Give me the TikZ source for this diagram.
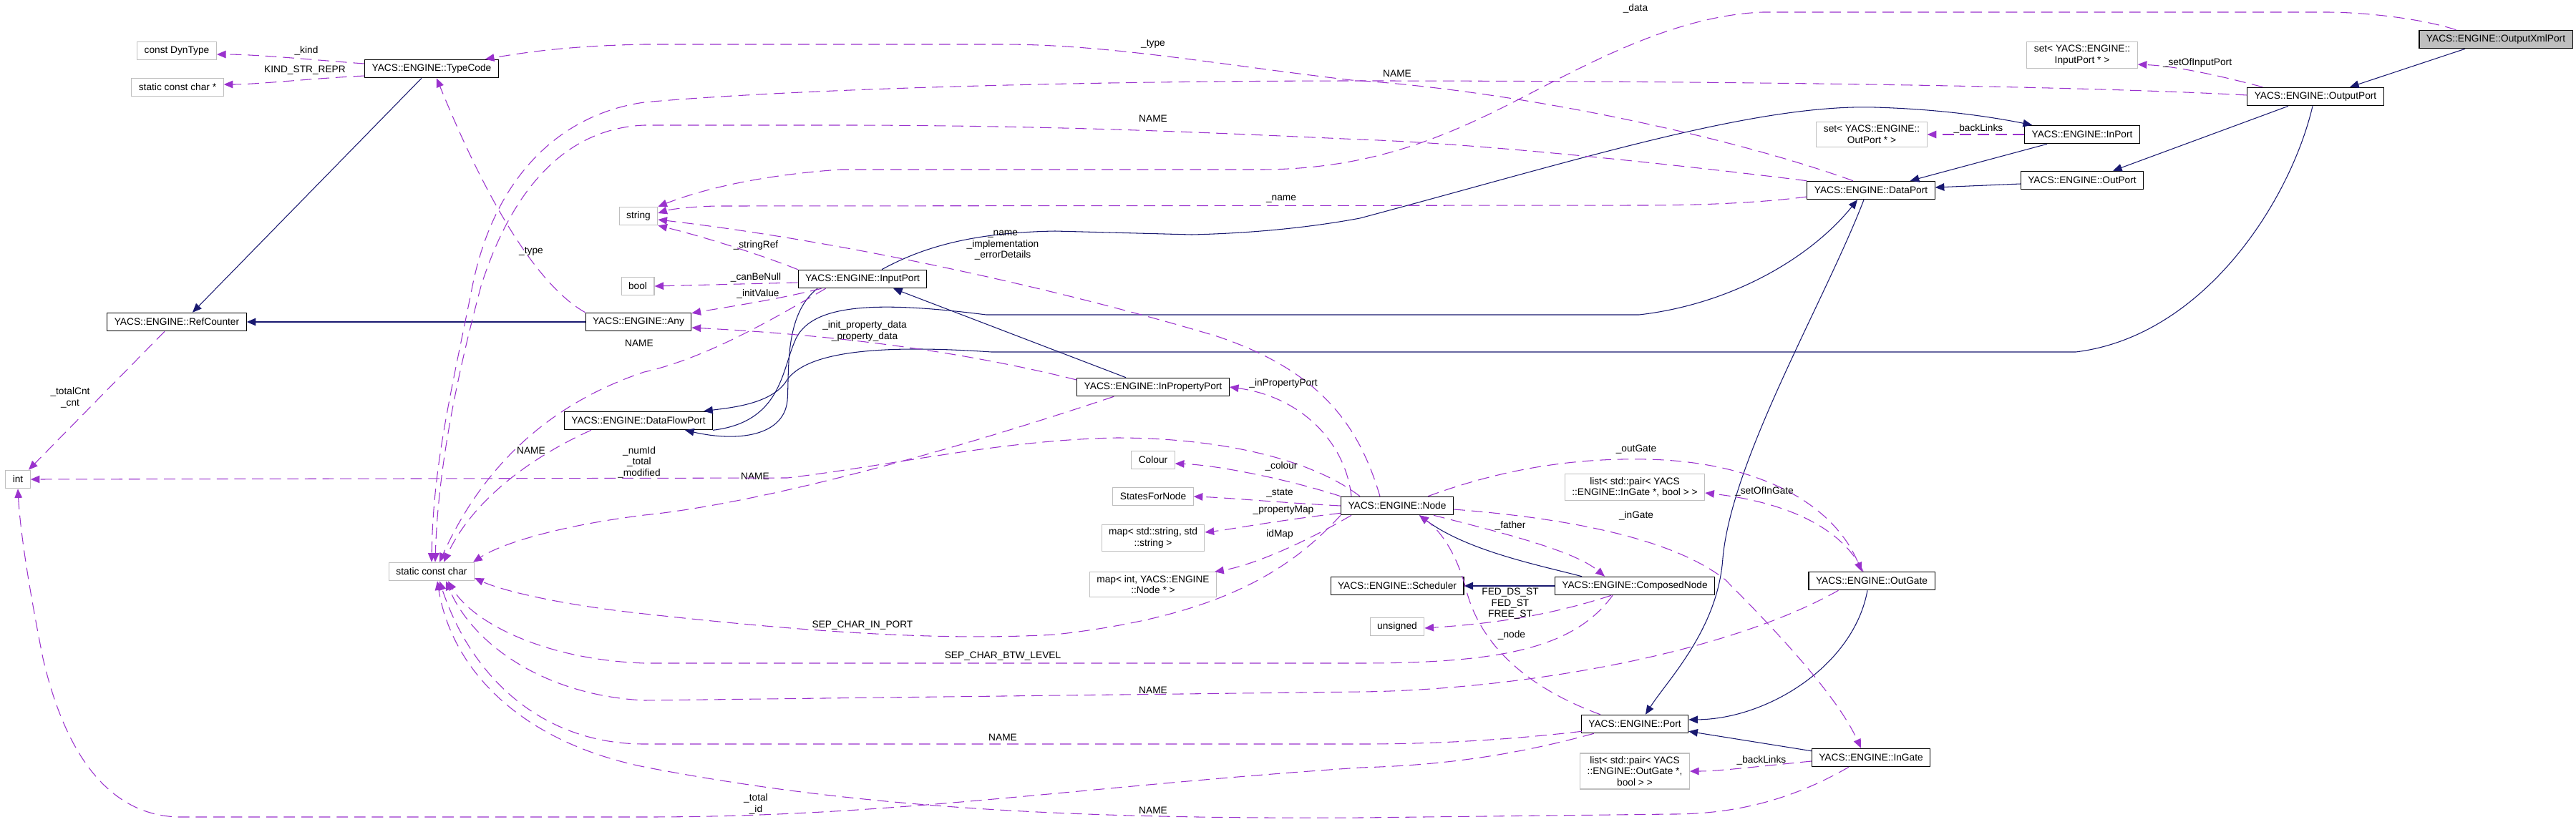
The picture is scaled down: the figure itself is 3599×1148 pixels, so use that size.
\documentclass[tikz,border=0pt]{standalone}
\usepackage{fontspec}
\setmainfont{Liberation Sans}
\usetikzlibrary{arrows.meta,calc}

\definecolor{inhblue}{HTML}{191970}
\definecolor{usepurple}{HTML}{9A32CD}
\definecolor{extgray}{HTML}{BFBFBF}
\newcommand\dgfont{\fontsize{3.9}{4.4}\selectfont}

\begin{document}
\begin{tikzpicture}[x=0.01cm, y=-0.01cm,
    cls/.style={draw=black, line width=0.3pt, fill=white, font=\dgfont, align=center,
                inner xsep=0.1cm, inner ysep=0.045cm, minimum height=0.255cm},
    ext/.style={cls, draw=extgray},
    self/.style={cls, fill=extgray},
    inh/.style={draw=inhblue, line width=0.3pt, -{Triangle[length=3.6pt,width=3pt]}},
    use/.style={draw=usepurple, line width=0.3pt, dash pattern=on 4.5pt off 2.5pt, -{Triangle[length=3.6pt,width=3pt]}},
    lbl/.style={font=\dgfont, align=center, inner sep=0pt}]
    \useasboundingbox (0,0) rectangle (3599,1148);

    % classes and types
    \node[ext] (int) at (25,670) {int};
    \node[ext] (dyntype) at (247,71) {const DynType};
    \node[ext] (kindrepr) at (248,122) {static const char *};
    \node[cls] (refcnt) at (247,450) {YACS::ENGINE::RefCounter};
    \node[cls] (typecode) at (603,96) {YACS::ENGINE::TypeCode};
    \node[ext] (scc) at (603,799) {static const char};
    \node[ext] (string) at (892,302) {string};
    \node[ext] (bool) at (891,400) {bool};
    \node[cls] (any) at (892,450) {YACS::ENGINE::Any};
    \node[cls] (dfport) at (892,588) {YACS::ENGINE::DataFlowPort};
    \node[cls] (inputport) at (1205,390) {YACS::ENGINE::InputPort};
    \node[cls] (inpropport) at (1611,541) {YACS::ENGINE::InPropertyPort};
    \node[ext] (colour) at (1611,643) {Colour};
    \node[ext] (states) at (1611,694) {StatesForNode};
    \node[ext] (propmap) at (1611,752) {map< std::string, std\\::string >};
    \node[ext] (idmap) at (1611,817) {map< int, YACS::ENGINE\\::Node * >};
    \node[cls] (node) at (1952,707) {YACS::ENGINE::Node};
    \node[cls] (sched) at (1952,819) {YACS::ENGINE::Scheduler};
    \node[ext] (unsgn) at (1952,876) {unsigned};
    \node[cls] (compnode) at (2284,819) {YACS::ENGINE::ComposedNode};
    \node[ext] (ingatelist) at (2284,681) {list< std::pair< YACS\\::ENGINE::InGate *, bool > >};
    \node[cls] (port) at (2284,1012) {YACS::ENGINE::Port};
    \node[ext] (outgatelist) at (2284,1078) {list< std::pair< YACS\\::ENGINE::OutGate *,\\bool > >};
    \node[cls] (dataport) at (2614,266) {YACS::ENGINE::DataPort};
    \node[ext] (outportset) at (2615,188) {set< YACS::ENGINE::\\OutPort * >};
    \node[cls] (outgate) at (2615,812) {YACS::ENGINE::OutGate};
    \node[cls] (ingate) at (2614,1059) {YACS::ENGINE::InGate};
    \node[cls] (inport) at (2909,188) {YACS::ENGINE::InPort};
    \node[cls] (outport) at (2909,252) {YACS::ENGINE::OutPort};
    \node[ext] (inputportset) at (2909,77) {set< YACS::ENGINE::\\InputPort * >};
    \node[cls] (outputport) at (3235,135) {YACS::ENGINE::OutputPort};
    \node[self] (xmlport) at (3487,55) {YACS::ENGINE::OutputXmlPort};

    % inheritance
    \draw[inh] ($(typecode.south)+(-14,0)$) -- ($(refcnt.north)+(22,0)$);
    \draw[inh] (any.west) -- (refcnt.east);
    \draw[inh] ($(inputport.south)+(-63,0)$) .. controls (1095,440) and (1103,520) .. (1100,560) .. controls (1095,610) and (1030,618) .. ($(dfport.south)+(65,0)$);
    \draw[inh] ($(outputport.south)+(-4,0)$) .. controls (3200,280) and (3080,470) .. (2900,492) -- (1385,492) .. controls (1210,480) and (1120,495) .. (1097,535) .. controls (1075,565) and (1020,570) .. ($(dfport.north east)+(-13,0)$);
    \draw[inh] (dfport.south east) .. controls (1090,590) and (1092,520) .. (1110,478) .. controls (1130,425) and (1220,420) .. (1378,440) -- (2290,440) .. controls (2420,425) and (2530,360) .. ($(dataport.south)+(-19,0)$);
    \draw[inh] ($(inpropport.north)+(-38,0)$) -- ($(inputport.south)+(43,0)$);
    \draw[inh] ($(inputport.north)+(27,0)$) .. controls (1290,345) and (1360,325) .. (1474,323) -- (1665,328) .. controls (1750,326) and (1830,318) .. (1900,305) .. controls (2200,225) and (2450,145) .. (2620,150) .. controls (2720,153) and (2790,165) .. ($(inport.north west)+(11,0)$);
    \draw[inh] ($(inport.south west)+(32,0)$) -- ($(dataport.north east)+(-35,0)$);
    \draw[inh] ($(outport.west)+(0,5)$) -- ($(dataport.east)+(0,-4)$);
    \draw[inh] ($(outputport.south)+(-38,0)$) -- ($(outport.north)+(43,0)$);
    \draw[inh] ($(xmlport.south)+(-43,0)$) -- ($(outputport.north)+(48,0)$);
    \draw[inh] ($(dataport.south)+(-10,0)$) .. controls (2550,420) and (2420,640) .. (2407,780) .. controls (2400,880) and (2330,950) .. ($(port.north)+(15,0)$);
    \draw[inh] ($(outgate.south)+(-6,0)$) .. controls (2590,930) and (2470,1005) .. ($(port.east)+(0,-6)$);
    \draw[inh] ($(ingate.north west)+(0,4)$) -- ($(port.south east)+(0,-3)$);
    \draw[inh] ($(compnode.north)+(-74,0)$) .. controls (2150,790) and (2050,770) .. ($(node.south)+(31,0)$);
    \draw[inh] (compnode.west) -- (sched.east);

    % members
    \draw[use] ($(typecode.west)+(0,-7)$) .. controls (440,84) and (360,76) .. ($(dyntype.east)+(0,5)$);
    \node[lbl] (lkind) at (428,71) {\_kind};
    \draw[use] ($(typecode.west)+(0,10)$) .. controls (430,110) and (360,118) .. ($(kindrepr.east)+(0,-4)$);
    \node[lbl] (lkindrepr) at (426,98) {KIND\_STR\_REPR};
    \draw[use] ($(refcnt.south)+(-17,0)$) -- ($(int.north)+(15,0)$);
    \node[lbl] (lcnt) at (98,556) {\_totalCnt\\\_cnt};
    \draw[use] (any.north west) .. controls (770,410) and (700,330) .. ($(typecode.south)+(7,0)$);
    \node[lbl] (ltypeany) at (742,351) {\_type};
    \draw[use] ($(dataport.north)+(-25,0)$) .. controls (2400,185) and (2100,125) .. (1888,112) .. controls (1700,90) and (1550,62) .. (1400,62) -- (900,62) .. controls (800,64) and (740,72) .. ($(typecode.north east)+(-19,0)$);
    \node[lbl] (ltypedp) at (1611,61) {\_type};
    \draw[use] ($(outputport.west)+(0,-2)$) .. controls (2900,120) and (2400,113) .. (1900,113) .. controls (1500,113) and (1100,125) .. (900,143) .. controls (780,160) and (690,250) .. (660,400) .. controls (630,550) and (605,650) .. (scc.north);
    \node[lbl] (lnameop) at (1952,103) {NAME};
    \draw[use] (dataport.north west) .. controls (2300,225) and (2050,200) .. (1900,195) .. controls (1700,186) and (1500,176) .. (1200,175) -- (900,175) .. controls (780,180) and (710,280) .. (672,400) .. controls (640,520) and (612,650) .. ($(scc.north)+(5,0)$);
    \node[lbl] (lnamedp) at (1611,166) {NAME};
    \draw[use] ($(inputport.south west)+(39,0)$) .. controls (1090,440) and (990,500) .. (900,520) .. controls (780,560) and (680,640) .. ($(scc.north)+(11,0)$);
    \node[lbl] (lnameinp) at (893,480) {NAME};
    \draw[use] ($(dfport.south west)+(38,0)$) .. controls (740,640) and (660,700) .. ($(scc.north)+(17,0)$);
    \node[lbl] (lnamedfp) at (742,630) {NAME};
    \draw[use] ($(inpropport.south west)+(52,0)$) .. controls (1300,640) and (1050,705) .. (900,720) .. controls (780,735) and (700,760) .. ($(scc.north east)+(-2,0)$);
    \node[lbl] (lnameipp) at (1055,666) {NAME};
    \draw[use] (node.south west) .. controls (1800,800) and (1700,862) .. (1474,887) .. controls (1300,897) and (1100,880) .. (900,858) .. controls (780,845) and (700,825) .. ($(scc.east)+(0,9)$);
    \node[lbl] (lsepport) at (1205,874) {SEP\_CHAR\_IN\_PORT};
    \draw[use] ($(compnode.south)+(-31,0)$) .. controls (2200,905) and (2100,927) .. (1900,927) -- (900,927) .. controls (760,922) and (660,870) .. ($(scc.south)+(23,0)$);
    \node[lbl] (lseplevel) at (1401,917) {SEP\_CHAR\_BTW\_LEVEL};
    \draw[use] ($(outgate.south west)+(42,0)$) .. controls (2400,920) and (2100,965) .. (1900,967) -- (900,979) .. controls (760,972) and (660,900) .. ($(scc.south)+(20,0)$);
    \node[lbl] (lnameog) at (1611,965) {NAME};
    \draw[use] ($(port.south west)+(1,-3)$) .. controls (2100,1035) and (2000,1040) .. (1900,1040) -- (900,1040) .. controls (760,1040) and (660,950) .. ($(scc.south)+(11,0)$);
    \node[lbl] (lnameport) at (1401,1031) {NAME};
    \draw[use] ($(ingate.south west)+(52,0)$) .. controls (2500,1120) and (2420,1138) .. (2336,1138) -- (1900,1143) .. controls (1500,1145) and (1200,1130) .. (900,1072) .. controls (720,1035) and (630,930) .. ($(scc.south)+(8,0)$);
    \node[lbl] (lnameig) at (1611,1133) {NAME};
    \draw[use] ($(port.south west)+(18,0)$) .. controls (2100,1060) and (2000,1070) .. (1900,1073) .. controls (1500,1100) and (1250,1142) .. (900,1142) -- (250,1142) .. controls (150,1140) and (90,1050) .. (60,920) .. controls (40,820) and (28,740) .. (int.south);
    \node[lbl] (ltotalid) at (1056,1124) {\_total\\\_id};
    \draw[use] ($(node.north west)+(27,0)$) .. controls (1830,640) and (1700,612) .. (1560,612) .. controls (1400,615) and (1250,650) .. (1100,668) -- (int.east);
    \node[lbl] (lnumid) at (893,646) {\_numId\\\_total\\\_modified};
    \draw[use] ($(node.north west)+(55,0)$) .. controls (1900,600) and (1850,520) .. (1700,470) .. controls (1500,410) and (1200,340) .. ($(string.east)+(0,5)$);
    \node[lbl] (lnodestr) at (1401,343) {\_name\\\_implementation\\\_errorDetails};
    \draw[use] (inputport.north west) .. controls (1060,355) and (980,330) .. (string.south east);
    \node[lbl] (lstrref) at (1056,343) {\_stringRef};
    \draw[use] ($(xmlport.north west)+(52,0)$) .. controls (3380,25) and (3300,17) .. (3250,17) -- (2463,17) .. controls (2330,22) and (2200,100) .. (2100,150) .. controls (2000,200) and (1900,237) .. (1760,237) -- (1174,237) .. controls (1060,245) and (980,265) .. (string.north east);
    \node[lbl] (ldata) at (2285,12) {\_data};
    \draw[use] ($(dataport.west)+(0,9)$) .. controls (2450,285) and (2350,287) .. (2300,287) -- (1000,288) .. controls (960,289) and (935,293) .. ($(string.east)+(0,-4)$);
    \node[lbl] (lname) at (1790,278) {\_name};
    \draw[use] ($(inputport.west)+(0,5)$) -- (bool.east);
    \node[lbl] (lcanbenull) at (1056,388) {\_canBeNull};
    \draw[use] ($(inputport.south west)+(33,0)$) .. controls (1080,420) and (1010,430) .. ($(any.north east)+(0,1)$);
    \node[lbl] (linitval) at (1059,411) {\_initValue};
    \draw[use] ($(inpropport.west)+(0,-10)$) .. controls (1300,480) and (1100,465) .. ($(any.east)+(0,8)$);
    \node[lbl] (lpropdata) at (1208,463) {\_init\_property\_data\\\_property\_data};
    \draw[use] ($(node.north west)+(15,0)$) .. controls (1880,620) and (1820,555) .. (inpropport.east);
    \node[lbl] (linprop) at (1793,536) {\_inPropertyPort};
    \draw[use] (node.north west) .. controls (1800,670) and (1700,650) .. ($(colour.east)+(0,5)$);
    \node[lbl] (lcolour) at (1790,652) {\_colour};
    \draw[use] (node.west) .. controls (1780,702) and (1720,696) .. (states.east);
    \node[lbl] (lstate) at (1788,689) {\_state};
    \draw[use] ($(node.south west)+(0,-3)$) .. controls (1780,728) and (1720,740) .. ($(propmap.east)+(0,-8)$);
    \node[lbl] (lpropmap) at (1793,713) {\_propertyMap};
    \draw[use] ($(node.south west)+(15,0)$) .. controls (1820,760) and (1750,790) .. ($(idmap.north east)+(-3,0)$);
    \node[lbl] (lidmap) at (1788,747) {idMap};
    \draw[use] ($(node.south east)+(-28,0)$) .. controls (2100,745) and (2200,770) .. ($(compnode.north)+(-42,0)$);
    \node[lbl] (lfather) at (2110,735) {\_father};
    \draw[use] ($(port.north west)+(27,0)$) .. controls (2130,960) and (2070,900) .. (2050,830) .. controls (2035,770) and (2010,740) .. ($(node.south)+(31,0)$);
    \node[lbl] (lnode) at (2112,888) {\_node};
    \draw[use] ($(node.north east)+(-36,0)$) .. controls (2100,655) and (2200,640) .. (2300,642) .. controls (2450,645) and (2560,700) .. ($(outgate.north)+(-14,0)$);
    \node[lbl] (loutgate) at (2286,628) {\_outGate};
    \draw[use] ($(node.east)+(0,5)$) .. controls (2200,725) and (2340,755) .. (2410,810) .. controls (2500,900) and (2570,980) .. ($(ingate.north)+(-14,0)$);
    \node[lbl] (lingate) at (2286,721) {\_inGate};
    \draw[use] ($(outgate.north)+(-12,0)$) .. controls (2570,730) and (2480,700) .. ($(ingatelist.east)+(0,8)$);
    \node[lbl] (lsetofingate) at (2465,687) {\_setOfInGate};
    \draw[use] ($(compnode.south)+(-33,0)$) .. controls (2160,862) and (2080,872) .. ($(unsgn.east)+(0,2)$);
    \node[lbl] (lstates) at (2110,844) {FED\_DS\_ST\\FED\_ST\\FREE\_ST};
    \draw[use] ($(ingate.west)+(0,5)$) .. controls (2450,1072) and (2400,1078) .. (outgatelist.east);
    \node[lbl] (lbacklinks) at (2461,1063) {\_backLinks};
    \draw[use] (inport.west) -- (outportset.east);
    \node[lbl] (lbacklinksin) at (2764,180) {\_backLinks};
    \draw[use] ($(outputport.north west)+(22,0)$) .. controls (3080,100) and (3030,92) .. ($(inputportset.east)+(0,13)$);
    \node[lbl] (lsetofinput) at (3070,88) {\_setOfInputPort};
\end{tikzpicture}
\end{document}
